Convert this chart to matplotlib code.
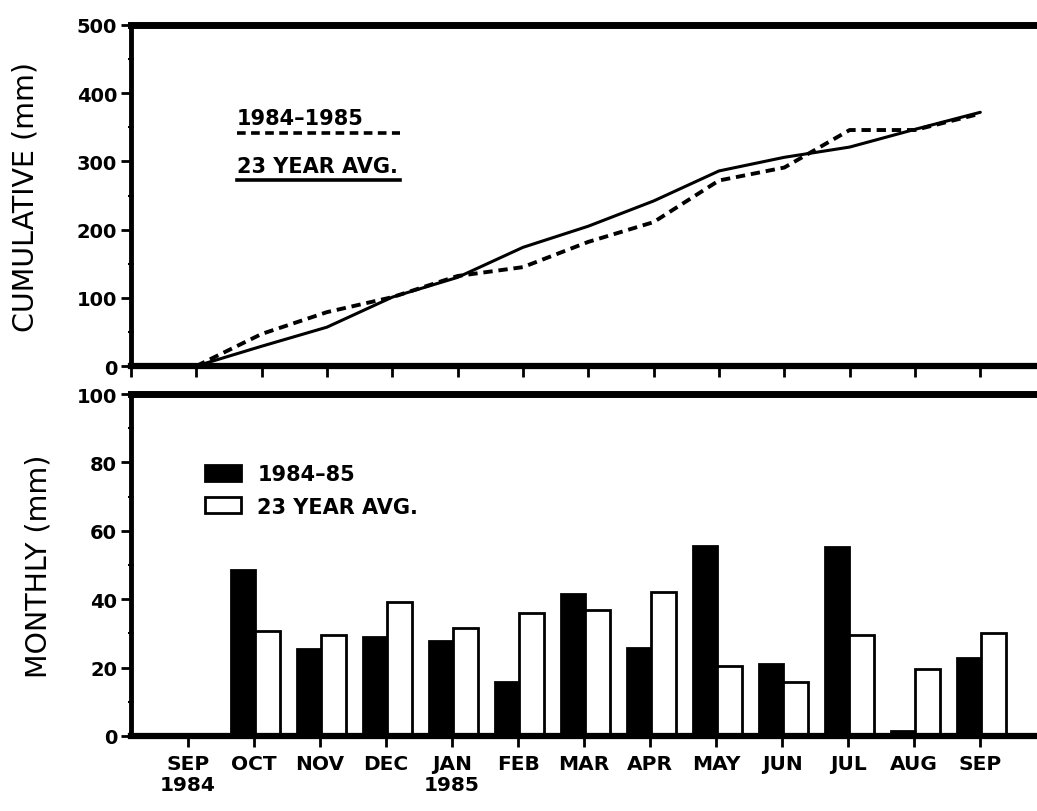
import matplotlib
matplotlib.use("Agg")
import matplotlib.pyplot as plt
import numpy as np
from matplotlib.lines import Line2D

plt.rcParams["font.family"] = ["DejaVu Sans"]

# month ticks (0 = SEP 1984 ... 12 = SEP 1985)
month_labels = ["SEP\n1984", "OCT", "NOV", "DEC", "JAN\n1985", "FEB", "MAR",
                "APR", "MAY", "JUN", "JUL", "AUG", "SEP"]

# cumulative rainfall (mm)
cum_8485 = [0, 47, 79, 101, 132, 145, 182, 211, 272, 291, 346, 346, 370]
cum_avg = [0, 29, 57, 101, 130, 174, 205, 242, 286, 306, 321, 347, 372]

# monthly rainfall (mm), OCT .. SEP
monthly_8485 = [48.5, 25.4, 28.9, 27.8, 15.8, 41.5, 25.7, 55.6, 21.1, 55.3, 1.5, 22.8]
monthly_avg = [30.7, 29.5, 39.2, 31.6, 36.0, 36.8, 42.1, 20.5, 15.8, 29.5, 19.6, 30.1]

fig = plt.figure(figsize=(10.37, 8.12), dpi=100)
ax1 = fig.add_axes([0.1263, 0.548, 0.894, 0.420])
ax2 = fig.add_axes([0.1263, 0.0924, 0.894, 0.421])

tick_font = dict(fontsize=14, fontweight="bold")

for ax in (ax1, ax2):
    ax.spines["right"].set_visible(False)
    ax.spines["top"].set_linewidth(5)
    ax.spines["bottom"].set_linewidth(4.5)
    ax.spines["left"].set_linewidth(3.5)
    ax.tick_params(axis="y", which="major", direction="out", length=7, width=2, pad=3)
    ax.tick_params(axis="y", which="minor", direction="inout", length=5, width=1.5)
    ax.tick_params(axis="x", which="major", direction="out", length=8, width=2)

# ---- top: cumulative
x = np.arange(len(month_labels))
ax1.plot(x, cum_avg, color="black", lw=2.2, solid_capstyle="round")
ax1.plot(x, cum_8485, color="black", lw=2.8, linestyle=(0, (2.4, 1.5)))
ax1.set_xlim(-1.0, 13.19)
ax1.set_ylim(0, 500)
ax1.set_xticks(np.arange(-1, 13))
ax1.set_xticklabels([])
ax1.set_yticks(np.arange(0, 501, 100))
ax1.set_yticks(np.arange(50, 500, 100), minor=True)
ax1.set_yticklabels([str(v) for v in range(0, 501, 100)], **tick_font)
ax1.set_ylabel("CUMULATIVE (mm)", fontsize=20.5)
ax1.yaxis.set_label_coords(-0.099, 0.5)

# top legend: text with line underneath
ax1.text(0.114, 0.710, "1984\u20131985", transform=ax1.transAxes,
         fontsize=15, fontweight="bold", va="baseline")
ax1.add_line(Line2D([0.114, 0.290], [0.683, 0.683], transform=ax1.transAxes,
                    color="black", lw=2.6, linestyle=(0, (2.4, 1.5))))
ax1.text(0.114, 0.569, "23 YEAR AVG.", transform=ax1.transAxes,
         fontsize=15, fontweight="bold", va="baseline")
ax1.add_line(Line2D([0.114, 0.290], [0.545, 0.545], transform=ax1.transAxes,
                    color="black", lw=2.6))

# ---- bottom: monthly bars
bx = np.arange(1, 13)
w = 0.37
off = 0.02
b1 = ax2.bar(bx + off - w / 2, monthly_8485, width=w, color="black",
             edgecolor="black", linewidth=2)
b2 = ax2.bar(bx + off + w / 2, monthly_avg, width=w, color="white",
             edgecolor="black", linewidth=2)
ax2.set_xlim(-0.864, 13.18)
ax2.set_ylim(0, 100)
ax2.set_xticks(x)
ax2.set_xticklabels(month_labels, fontsize=14.5, fontweight="bold", linespacing=1.15)
ax2.tick_params(axis="x", pad=5)
ax2.set_yticks(np.arange(0, 101, 20))
ax2.set_yticks(np.arange(10, 100, 20), minor=True)
ax2.set_yticklabels([str(v) for v in range(0, 101, 20)], **tick_font)
ax2.set_ylabel("MONTHLY (mm)", fontsize=20.5)
ax2.yaxis.set_label_coords(-0.085, 0.5)

ax2.legend([b1, b2], ["1984\u201385", "23 YEAR AVG."], loc="upper left",
           bbox_to_anchor=(0.08, 0.795), frameon=False, borderpad=0,
           borderaxespad=0, handlelength=1.7, handleheight=0.8,
           handletextpad=0.8, labelspacing=0.6,
           prop=dict(size=15, weight="bold"))

fig.savefig("out.png", dpi=100)
